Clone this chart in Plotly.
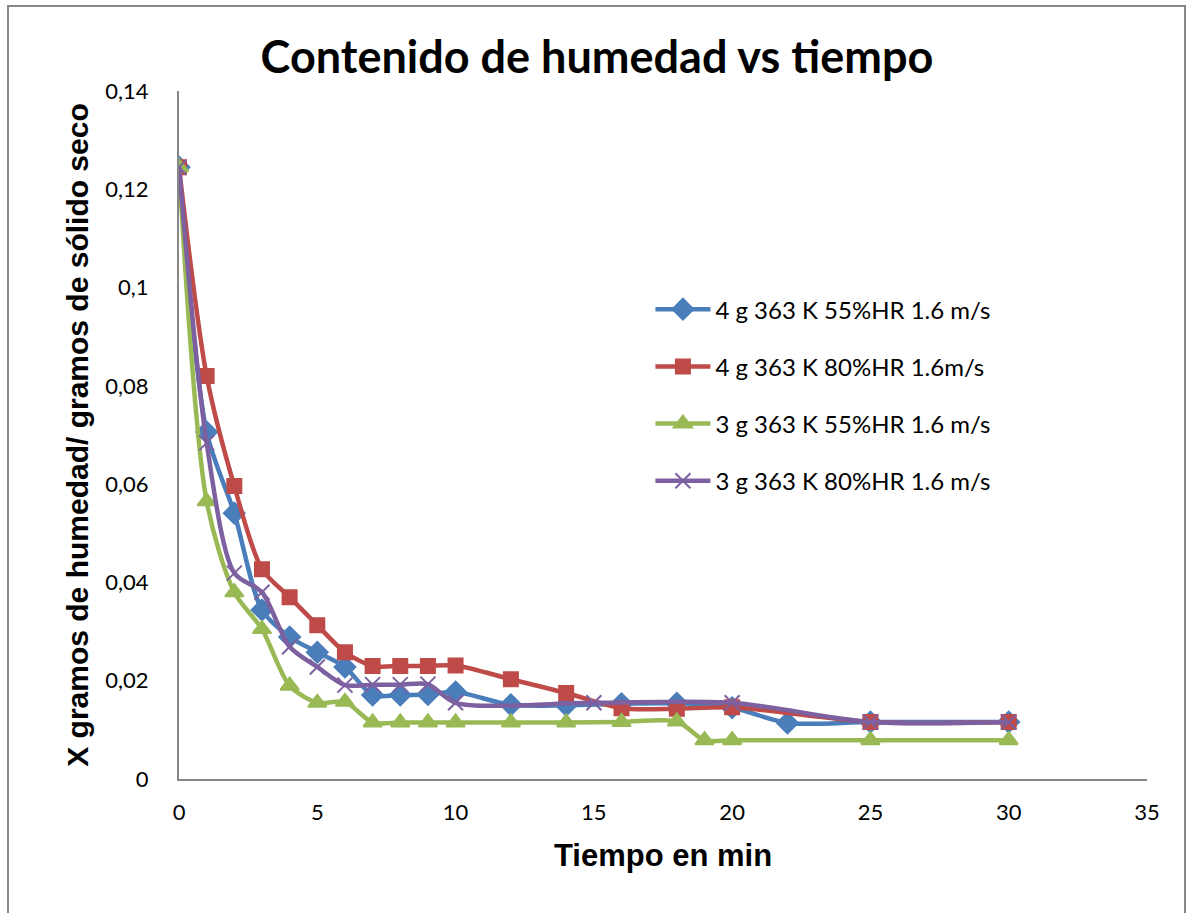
import plotly.graph_objects as go

# Tiempo (min) y contenido de humedad X (g humedad / g sólido seco)
t_4g_55 = [0, 1, 2, 3, 4, 5, 6, 7, 8, 9, 10, 12, 14, 16, 18, 20, 22, 25, 30]
x_4g_55 = [0.1245, 0.0706, 0.0541, 0.0344, 0.0289, 0.0258, 0.0228, 0.0171, 0.0171,
           0.0172, 0.0177, 0.0151, 0.0150, 0.0153, 0.0154, 0.0145, 0.0114, 0.0116, 0.0116]

t_4g_80 = [0, 1, 2, 3, 4, 5, 6, 7, 8, 9, 10, 12, 14, 16, 18, 20, 25, 30]
x_4g_80 = [0.1245, 0.0820, 0.0596, 0.0427, 0.0370, 0.0313, 0.0258, 0.0230, 0.0230,
           0.0230, 0.0231, 0.0203, 0.0175, 0.0144, 0.0143, 0.0146, 0.0116, 0.0116]

t_3g_55 = [0, 1, 2, 3, 4, 5, 6, 7, 8, 9, 10, 12, 14, 16, 18, 19, 20, 25, 30]
x_3g_55 = [0.1245, 0.0565, 0.0380, 0.0305, 0.0190, 0.0155, 0.0157, 0.0115, 0.0115,
           0.0115, 0.0115, 0.0115, 0.0115, 0.0116, 0.0117, 0.0079, 0.0079, 0.0079, 0.0079]

t_3g_80 = [0, 1, 2, 3, 4, 5, 6, 7, 8, 9, 10, 15, 20, 25, 30]
x_3g_80 = [0.1245, 0.0684, 0.0419, 0.0380, 0.0269, 0.0228, 0.0191, 0.0192, 0.0192,
           0.0193, 0.0155, 0.0155, 0.0155, 0.0116, 0.0116]

series_names = [
    "4 g 363 K 55%HR 1.6 m/s",
    "4 g 363 K 80%HR 1.6m/s",
    "3 g 363 K 55%HR 1.6 m/s",
    "3 g 363 K 80%HR 1.6 m/s",
]

series = [
    (t_4g_55, x_4g_55, "#4A7EBB", "diamond", 16),
    (t_4g_80, x_4g_80, "#BE4B48", "square", 14),
    (t_3g_55, x_3g_55, "#98B954", "triangle-up", 16),
    (t_3g_80, x_3g_80, "#7D60A0", "x-thin-open", 15),
]

fig = go.Figure()
for i, ((tx, xy, color, symbol, size), name) in enumerate(zip(series, series_names)):
    fig.add_trace(go.Scatter(
        x=tx, y=xy, name=name, mode="lines+markers",
        legendgroup=f"g{i}",
        line=dict(color=color, width=4.5, shape="spline", smoothing=0.8),
        marker=dict(symbol=symbol, size=size, color=color,
                    line=dict(color=color, width=2)),
    ))

axis_font = dict(family="Lato, Carlito, sans-serif", size=22, color="#000000")

fig.update_layout(
    width=1188, height=913,
    paper_bgcolor="white", plot_bgcolor="white",
    margin=dict(l=179, r=41, t=91, b=134),
    separators=",.",
    title=dict(
        text="<b>Contenido de humedad vs tiempo</b>",
        x=0.5025, xref="container", xanchor="center",
        y=1 - 57 / 913, yref="container", yanchor="middle",
        font=dict(family="Lato, Carlito, sans-serif", size=45, color="#000000"),
    ),
    xaxis=dict(
        range=[0, 35], tickvals=[0, 5, 10, 15, 20, 25, 30, 35],
        showgrid=False, zeroline=False, showline=True,
        linecolor="#878787", linewidth=2, ticks="",
        ticklabelstandoff=13,
        tickfont=axis_font,
        title=dict(text="<b>Tiempo en min</b>", standoff=20,
                   font=dict(family="Liberation Sans, Arial, sans-serif", size=31, color="#000000")),
    ),
    yaxis=dict(
        range=[0, 0.14], tickvals=[0, 0.02, 0.04, 0.06, 0.08, 0.1, 0.12, 0.14],
        ticktext=["0", "0,02", "0,04", "0,06", "0,08", "0,1", "0,12", "0,14"],
        showgrid=False, zeroline=False, showline=True,
        linecolor="#878787", linewidth=2, ticks="",
        ticklabelstandoff=24,
        tickfont=axis_font,
        title=dict(text="<b>X gramos de humedad/ gramos de sólido seco</b>", standoff=8,
                   font=dict(family="Liberation Sans, Arial, sans-serif", size=30, color="#000000")),
    ),
    legend=dict(
        x=0.487, y=0.715, xanchor="left", yanchor="top",
        bgcolor="rgba(0,0,0,0)",
        font=dict(family="Lato, Carlito, sans-serif", size=24, color="#000000"),
        tracegroupgap=23, itemwidth=55,
    ),
    shapes=[dict(
        type="rect", xref="paper", yref="paper",
        x0=(8 - 179) / 968, x1=(1185 - 179) / 968,
        y0=(779 - 920) / 688, y1=(779 - 6) / 688,
        line=dict(color="#878787", width=2), layer="below",
    )],
)

fig.write_html("out.html")
